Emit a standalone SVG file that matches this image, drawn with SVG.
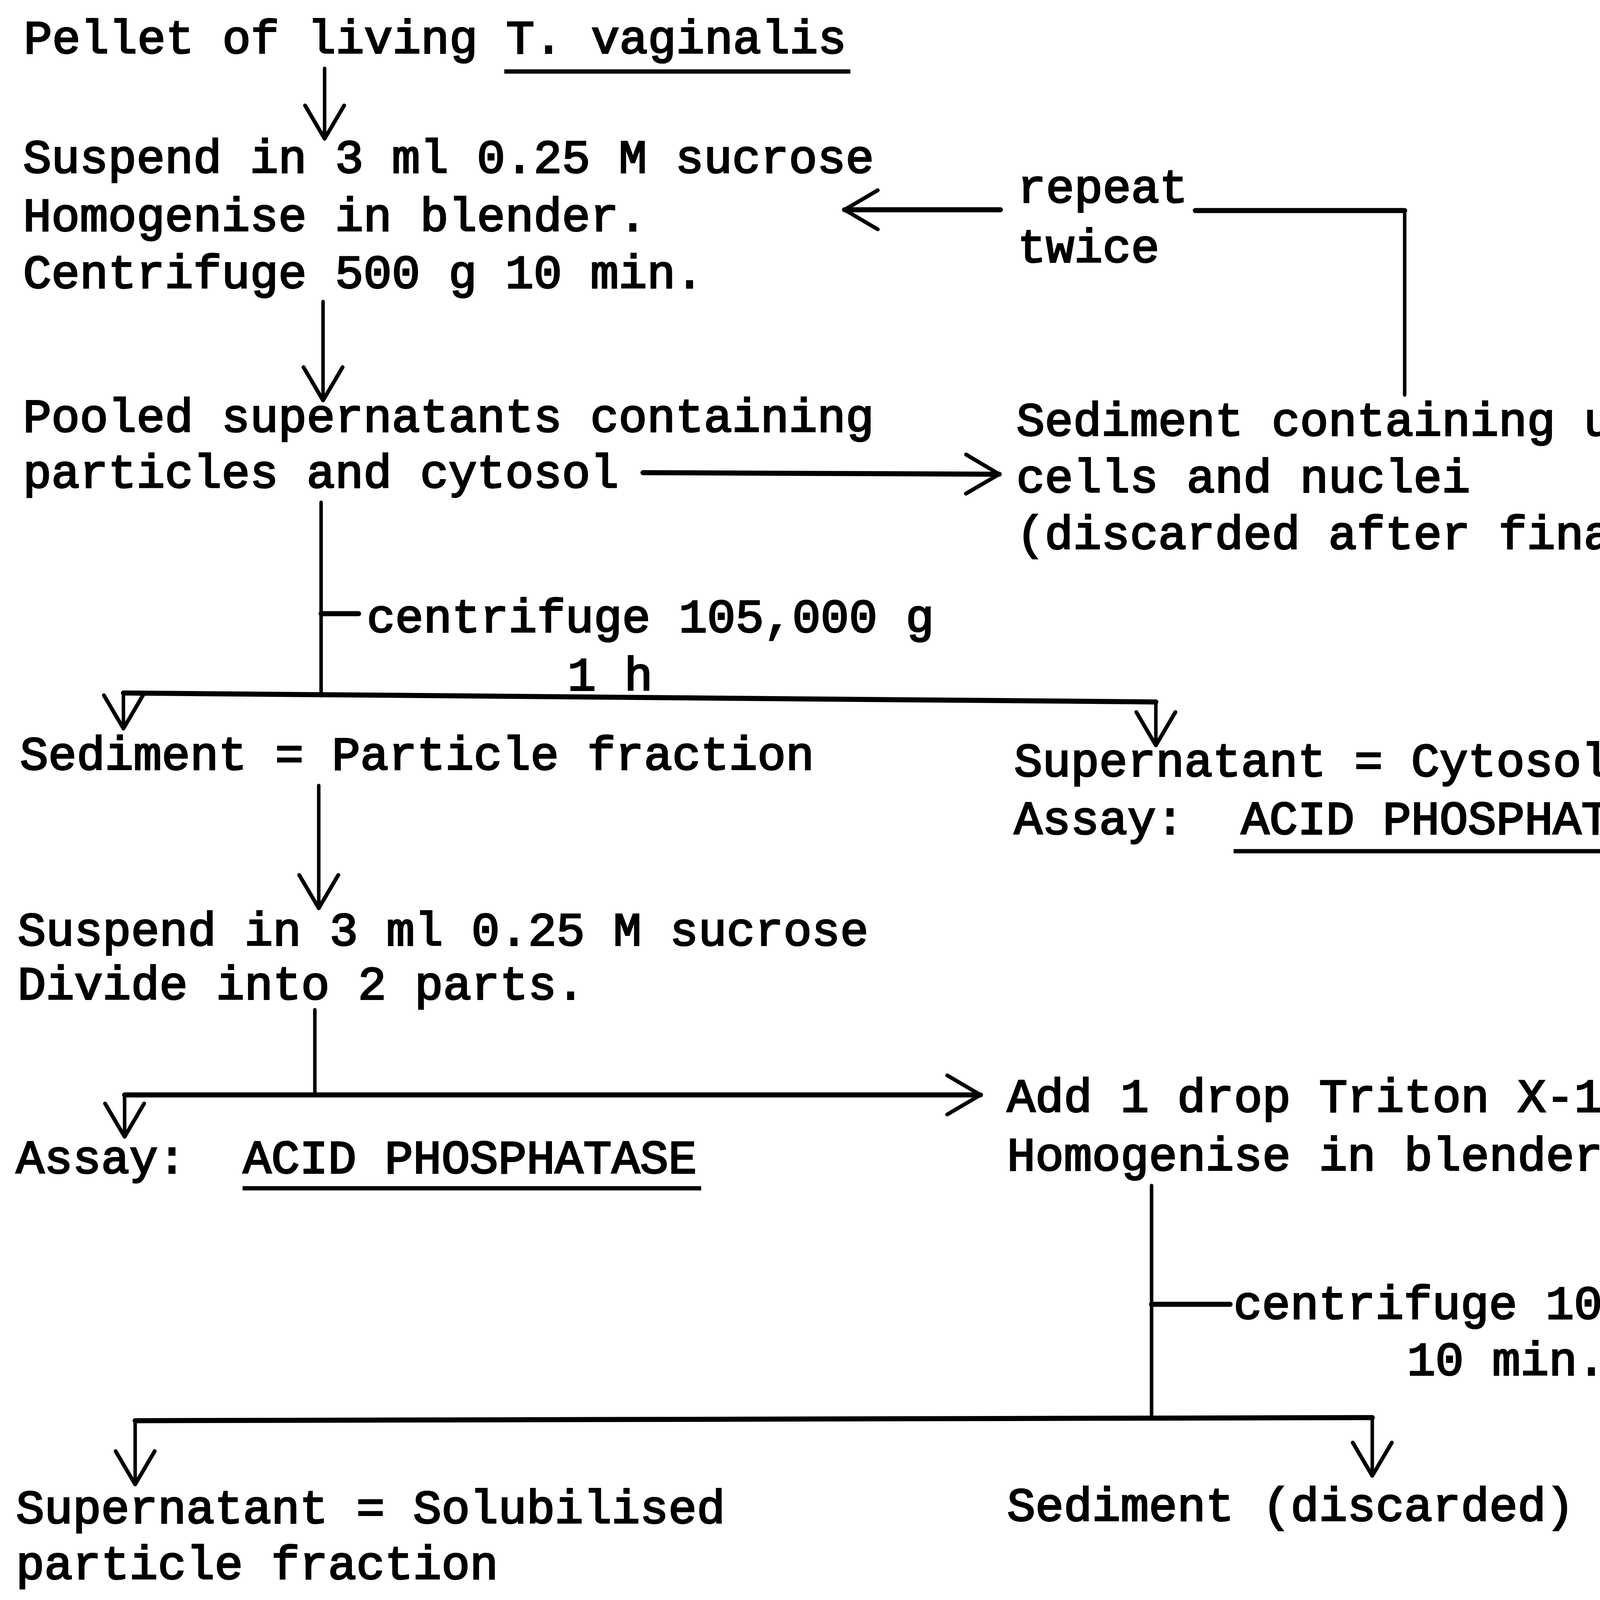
<svg xmlns="http://www.w3.org/2000/svg" width="4636" height="4222" viewBox="0 0 4636 4222">
<style>
text{font-family:"Liberation Mono","Courier New",monospace;font-size:121px;fill:#000;stroke:#000;stroke-width:4}
.c{fill:none;stroke:#000;stroke-width:9;stroke-linecap:round;stroke-linejoin:round}
.b{stroke-width:13}
.u{fill:none;stroke:#000;stroke-width:11}
</style>
<defs>
<marker id="v" viewBox="-100 -60 110 120" markerWidth="110" markerHeight="120" refX="0" refY="0" orient="auto" markerUnits="userSpaceOnUse">
<path d="M-85,-50 L0,0 L-85,50" fill="none" stroke="#000" stroke-width="10" stroke-linecap="round" stroke-linejoin="round"/>
</marker>
</defs>
<rect width="4636" height="4222" fill="#fff"/>
<g id="connectors">
<path class="c" d="M831,175 L831,355" marker-end="url(#v)"/>
<path class="c" d="M827,772 L827,1025" marker-end="url(#v)"/>
<path class="c b" d="M2561,537 L2162,537" marker-end="url(#v)"/>
<path class="c b" d="M3060,539 L3596,539"/>
<path class="c" d="M3596,539 L3596,1011"/>
<path class="c b" d="M1646,1210 L2558,1214" marker-end="url(#v)"/>
<path class="c" d="M822,1286 L822,1781"/>
<path class="c b" d="M822,1571 L918,1571"/>
<path class="c b" d="M316,1774 L2959,1797"/>
<path class="c" d="M316,1774 L316,1865" marker-end="url(#v)"/>
<path class="c" d="M2959,1797 L2959,1908" marker-end="url(#v)"/>
<path class="c" d="M816,2011 L816,2325" marker-end="url(#v)"/>
<path class="c" d="M806,2585 L806,2803"/>
<path class="c b" d="M319,2803 L2510,2803" marker-end="url(#v)"/>
<path class="c" d="M319,2803 L319,2910" marker-end="url(#v)"/>
<path class="c" d="M2948,3035 L2948,3627"/>
<path class="c b" d="M2948,3339 L3149,3339"/>
<path class="c b" d="M346,3637 L3513,3629"/>
<path class="c" d="M346,3637 L346,3800" marker-end="url(#v)"/>
<path class="c" d="M3513,3629 L3513,3778" marker-end="url(#v)"/>
</g>
<g id="pellet">
<text x="61" y="136" xml:space="preserve">Pellet of living T. vaginalis</text>
<path class="u" d="M1291,183 L2177,183"/>
</g>
<g id="suspend1">
<text x="59" y="442">Suspend in 3 ml 0.25 M sucrose</text>
<text x="59" y="591">Homogenise in blender.</text>
<text x="59" y="737">Centrifuge 500 g 10 min.</text>
</g>
<g id="repeat">
<text x="2605" y="518">repeat</text>
<text x="2605" y="671">twice</text>
</g>
<g id="pooled">
<text x="59" y="1105">Pooled supernatants containing</text>
<text x="59" y="1248">particles and cytosol</text>
</g>
<g id="sediment1">
<text x="2602" y="1115">Sediment containing unbroken</text>
<text x="2602" y="1260">cells and nuclei</text>
<text x="2602" y="1405">(discarded after final step)</text>
</g>
<g id="centrifuge1">
<text x="939" y="1618">centrifuge 105,000 g</text>
<text x="1453" y="1767">1 h</text>
</g>
<g id="particle">
<text x="51" y="1970">Sediment = Particle fraction</text>
</g>
<g id="cytosol">
<text x="2596" y="1987">Supernatant = Cytosol</text>
<text x="2596" y="2135" xml:space="preserve">Assay:  ACID PHOSPHATASE</text>
<path class="u" d="M3158,2179 L4335,2179"/>
</g>
<g id="suspend2">
<text x="45" y="2420">Suspend in 3 ml 0.25 M sucrose</text>
<text x="45" y="2558">Divide into 2 parts.</text>
</g>
<g id="assay1">
<text x="41" y="3003" xml:space="preserve">Assay:  ACID PHOSPHATASE</text>
<path class="u" d="M621,3042 L1795,3042"/>
</g>
<g id="triton">
<text x="2578" y="2846">Add 1 drop Triton X-100</text>
<text x="2578" y="2996">Homogenise in blender</text>
</g>
<g id="centrifuge2">
<text x="3158" y="3376">centrifuge 105,000 g</text>
<text x="3602" y="3520">10 min.</text>
</g>
<g id="solubilised">
<text x="41" y="3899">Supernatant = Solubilised</text>
<text x="41" y="4042">particle fraction</text>
<text x="41" y="4192" xml:space="preserve">Assay:  ACID PHOSPHATASE</text>
</g>
<g id="sediment2">
<text x="2578" y="3893">Sediment (discarded)</text>
</g>
</svg>
